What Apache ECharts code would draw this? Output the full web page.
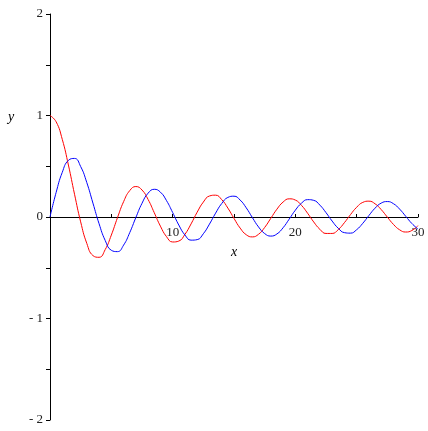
<!DOCTYPE html>
<html>
<head>
<meta charset="utf-8">
<script src="https://cdn.jsdelivr.net/npm/echarts@6/dist/echarts.min.js"></script>
<style>
  html, body { margin: 0; padding: 0; background: #fff; }
  #chart { width: 428px; height: 431px; }
</style>
</head>
<body>
<div id="chart"></div>
<script>
// sample positions along x
const xs = [
  0, 0.5, 1, 1.5, 2, 2.5, 3, 3.5, 4, 4.5, 5, 5.5, 6, 6.5, 7, 7.5, 8, 8.5, 9, 9.5,
  10, 10.5, 11, 11.5, 12, 12.5, 13, 13.5, 14, 14.5, 15, 15.5, 16, 16.5, 17, 17.5, 18, 18.5, 19, 19.5,
  20, 20.5, 21, 21.5, 22, 22.5, 23, 23.5, 24, 24.5, 25, 25.5, 26, 26.5, 27, 27.5, 28, 28.5, 29, 29.5, 30
];

// red curve (starts at 1)
const redY = [
  1.000, 0.938, 0.765, 0.512, 0.224, -0.048, -0.260, -0.380, -0.397, -0.321,
  -0.178, -0.007, 0.151, 0.260, 0.300, 0.266, 0.172, 0.042, -0.090, -0.194,
  -0.246, -0.237, -0.171, -0.068, 0.048, 0.147, 0.207, 0.215, 0.171, 0.088,
  -0.014, -0.109, -0.175, -0.196, -0.170, -0.103, -0.013, 0.077, 0.147, 0.179,
  0.167, 0.115, 0.037, -0.049, -0.121, -0.162, -0.162, -0.124, -0.056, 0.024,
  0.096, 0.144, 0.156, 0.130, 0.073, -0.001, -0.073, -0.126, -0.148, -0.133, -0.086
];

// blue curve (starts at 0)
const blueY = [
  0.000, 0.242, 0.440, 0.558, 0.577, 0.497, 0.339, 0.137, -0.066, -0.231,
  -0.328, -0.341, -0.277, -0.154, -0.005, 0.135, 0.235, 0.273, 0.245, 0.161,
  0.044, -0.079, -0.177, -0.228, -0.223, -0.165, -0.070, 0.038, 0.133, 0.193,
  0.205, 0.167, 0.090, -0.006, -0.098, -0.163, -0.188, -0.167, -0.106, -0.021,
  0.067, 0.136, 0.171, 0.164, 0.117, 0.043, -0.040, -0.111, -0.154, -0.159,
  -0.125, -0.062, 0.015, 0.087, 0.137, 0.152, 0.131, 0.078, 0.007, -0.064, -0.119
];

const xTicks = [0, 10, 20, 30];
const yTicks = [-2, -1, 0, 1, 2];

const font = '"Liberation Serif", "DejaVu Serif", serif';

const chart = echarts.init(document.getElementById('chart'));

const toPairs = (ys) => xs.map((x, i) => [x, ys[i]]);

const xMin = xTicks[0];
const xMax = xTicks[xTicks.length - 1];

chart.setOption({
  animation: false,
  grid: [
    // main plot
    { left: 50, right: 10, top: 14, bottom: 11, outerBoundsMode: 'none' },
    // overlay whose bottom edge sits on y = 0, carries the x labels
    { left: 50, right: 10, top: 14, bottom: 214, outerBoundsMode: 'none' },
  ],
  xAxis: [
    {
      type: 'value',
      gridIndex: 0,
      min: xMin,
      max: xMax,
      interval: 10,
      axisLine: { onZero: true, lineStyle: { color: '#000', width: 1 } },
      axisTick: { inside: true, length: 3, lineStyle: { color: '#000' } },
      minorTick: { show: true, splitNumber: 2, length: 3, lineStyle: { color: '#000' } },
      axisLabel: { show: false },
      splitLine: { show: false },
    },
    {
      type: 'value',
      gridIndex: 1,
      min: xMin,
      max: xMax,
      interval: 10,
      name: 'x',
      nameLocation: 'middle',
      nameGap: 28,
      nameTextStyle: { fontFamily: font, fontStyle: 'italic', fontSize: 14, color: '#000' },
      axisLine: { show: false },
      axisTick: { show: false },
      axisLabel: {
        fontFamily: font, fontSize: 13, color: '#222', margin: 9,
        formatter: (v) => (v === 0 ? '' : String(v)),
      },
      splitLine: { show: false },
    },
  ],
  yAxis: [
    {
      type: 'value',
      gridIndex: 0,
      min: yTicks[0],
      max: yTicks[yTicks.length - 1],
      interval: 1,
      axisLine: { onZero: false, lineStyle: { color: '#000', width: 1 } },
      axisTick: { inside: false, length: 4, lineStyle: { color: '#000' } },
      minorTick: { show: true, splitNumber: 2, length: 4, lineStyle: { color: '#000' } },
      axisLabel: {
        fontFamily: font, fontSize: 13, color: '#222', margin: 7,
        formatter: (v) => (v < 0 ? '- ' + (-v) : String(v)),
      },
      splitLine: { show: false },
    },
    {
      type: 'value',
      gridIndex: 1,
      show: false,
    },
  ],
  graphic: [{
    type: 'text',
    left: 8,
    top: 110,
    style: { text: 'y', fontFamily: font, fontStyle: 'italic', fontSize: 14, fill: '#000' },
  }],
  series: [
    {
      type: 'line',
      data: toPairs(redY),
      smooth: true,
      showSymbol: false,
      lineStyle: { color: '#ff0000', width: 1 },
    },
    {
      type: 'line',
      data: toPairs(blueY),
      smooth: true,
      showSymbol: false,
      lineStyle: { color: '#0000ff', width: 1 },
    },
  ],
});
</script>
</body>
</html>
